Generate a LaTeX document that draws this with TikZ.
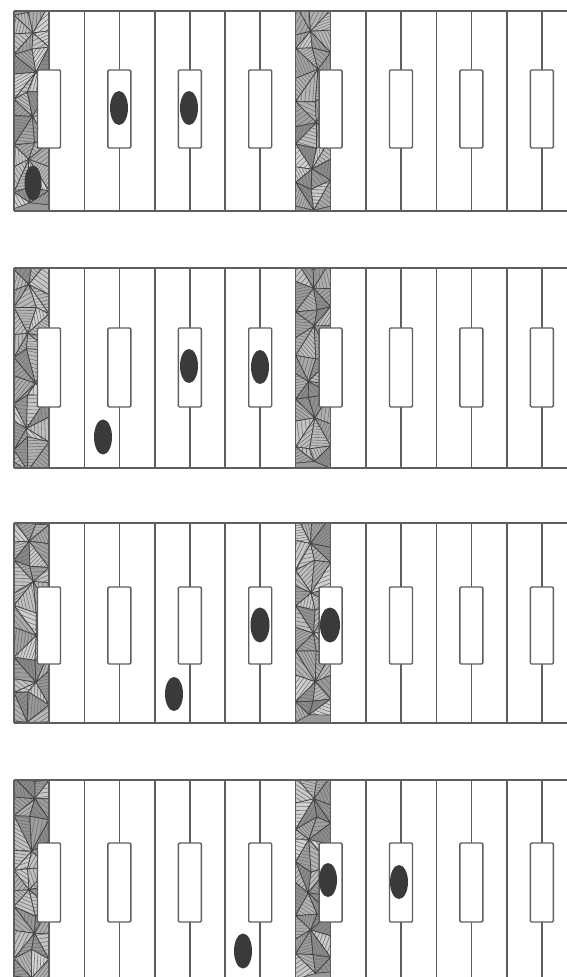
\documentclass[tikz,border=0pt]{standalone}
\usetikzlibrary{calc}
\definecolor{ink}{HTML}{5E5E5E}
\definecolor{dot}{HTML}{3A3A3A}
\tikzset{
  wire/.style={draw=ink, line width=0.75pt},
  pinbox/.style={draw=ink, fill=white, line width=0.7pt, rounded corners=0.6pt},
  blob/.style={fill=dot},
  texline/.style={draw=black!75, line width=0.35pt},
  hatchline/.style={draw=black!55, line width=0.3pt},
}
\newcommand{\tri}[3]{%
  \pgfmathsetmacro\sa{int(18+30*rnd)}
  \pgfmathsetmacro\ang{180*rnd}
  \pgfmathsetmacro\gap{2.6+1.6*rnd}
  \fill[black!\sa] (#1) -- (#2) -- (#3) -- cycle;
  \begin{scope}
    \clip (#1) -- (#2) -- (#3) -- cycle;
    \coordinate (cc) at ($(#1)!0.5!(#2)!0.3333!(#3)$);
    \foreach \m in {-6,...,6} {\draw[hatchline] ($(cc)+(\ang+90:\gap*\m)+(\ang:30)$) -- ($(cc)+(\ang+90:\gap*\m)+(\ang:-30)$);}
  \end{scope}
  \draw[texline] (#1) -- (#2) -- (#3) -- cycle;
}
\newcommand{\hstrip}[2]{%
 \begin{scope}
  \clip (#1,#2) rectangle ++(35,200);
  \fill[black!40] (#1,#2) rectangle ++(35,200);
  \foreach \i in {0,1,2} {\foreach \j in {0,...,9} {
    \pgfmathsetmacro\jx{ifthenelse(\i==1, 10*(rnd-0.5), 0)}
    \pgfmathsetmacro\jy{14*(rnd-0.5)}
    \coordinate (v\i-\j) at (#1+17.5*\i+\jx, #2+22.2*\j+\jy-2);
  }}
  \foreach \i [evaluate=\i as \ii using int(\i+1)] in {0,1} {
    \foreach \j [evaluate=\j as \jj using int(\j+1)] in {0,...,8} {
      \pgfmathtruncatemacro\parity{mod(\i+\j,2)}
      \ifnum\parity=0
        \tri{v\i-\j}{v\ii-\j}{v\ii-\jj}
        \tri{v\i-\j}{v\ii-\jj}{v\i-\jj}
      \else
        \tri{v\i-\j}{v\ii-\j}{v\i-\jj}
        \tri{v\ii-\j}{v\ii-\jj}{v\i-\jj}
      \fi
    }
  }
 \end{scope}
 \draw[wire] (#1,#2) -- ++(0,200) (#1+35,#2) -- ++(0,200);
}
\newcommand{\panel}[3]{%
  \hstrip{14}{#1}
  \hstrip{295.6}{#1}
  \foreach \k in {1,2,3,5,6,7} {\draw[wire] (14+70.4*\k,#1) -- ++(0,200);}
  \foreach \k in {1,2,3,5,6,7} {\draw[wire] (49+70.4*\k,#1) -- ++(0,200);}
  \draw[wire] (14,#1) -- (567,#1);
  \draw[wire] (14,#1+200) -- (567,#1+200);
  \foreach \k in {0,...,7} {\draw[pinbox] (49+70.4*\k-11.5,#2) rectangle (49+70.4*\k+11.5,#3);}
}
\begin{document}
\begin{tikzpicture}[x=0.5pt,y=-0.5pt]
\pgfmathsetseed{11}
\useasboundingbox (0,0) rectangle (566,977);
\fill[white] (0,0) rectangle (566,977);
% panel 1
\panel{11}{70}{148}
\fill[blob] (33,183) ellipse [x radius=8.5, y radius=17.5];
\fill[blob] (119,108) ellipse [x radius=9, y radius=17];
\fill[blob] (189,108) ellipse [x radius=9, y radius=17];
% panel 2
\panel{268}{328}{407}
\fill[blob] (103,437) ellipse [x radius=9, y radius=17.5];
\fill[blob] (189,366) ellipse [x radius=9, y radius=17];
\fill[blob] (260,367) ellipse [x radius=9, y radius=17];
% panel 3
\panel{523}{587}{664}
\fill[blob] (174,694) ellipse [x radius=9, y radius=17];
\fill[blob] (260,625) ellipse [x radius=9.5, y radius=17.5];
\fill[blob] (330,625) ellipse [x radius=10, y radius=17.5];
% panel 4
\panel{780}{843}{922}
\fill[blob] (243,951) ellipse [x radius=9, y radius=17.5];
\fill[blob] (328,880) ellipse [x radius=9, y radius=17];
\fill[blob] (399,882) ellipse [x radius=9, y radius=17];
\end{tikzpicture}
\end{document}
